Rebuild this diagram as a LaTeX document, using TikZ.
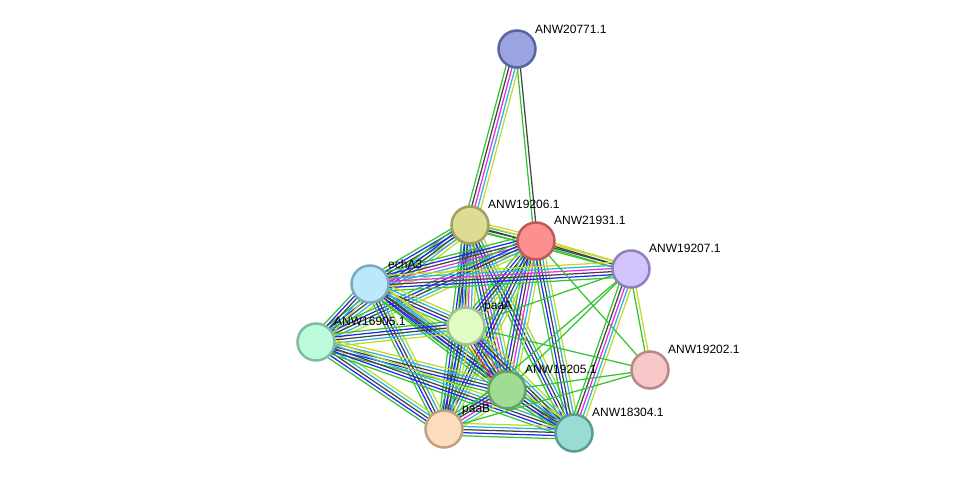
\documentclass[tikz,border=0pt]{standalone}
\usepackage{fontspec}
\setmainfont{Liberation Sans}
\usetikzlibrary{calc,backgrounds}
\definecolor{grn}{HTML}{33C433}
\definecolor{blk}{HTML}{444444}
\definecolor{mag}{HTML}{E62CE6}
\definecolor{cyn}{HTML}{2CB4DC}
\definecolor{yel}{HTML}{C4D82C}
\definecolor{blu}{HTML}{2424F4}
\definecolor{rd}{HTML}{F42424}
\newcommand\edgeb[4]{%
  \foreach \c [count=\i] in {#4}{%
    \pgfmathsetmacro\off{(\i-(#3+1)/2)*3.1}%
    \draw[wire,\c] ($(#1.center)!\off pt!90:(#2.center)$) -- ($(#2.center)!\off pt!-90:(#1.center)$);}}
\tikzset{
  prot/.style={circle,inner sep=0pt,minimum size=37pt,line width=2.5pt},
  lbl/.style={anchor=base west,inner sep=0pt,font=\fontsize{12}{14}\selectfont,text=black},
  wire/.style={line width=1.25pt},
}
\begin{document}
\begin{tikzpicture}[x=1pt,y=-1pt]
\useasboundingbox (0,0) rectangle (975,479);
\node[prot,fill={rgb,255:red,154;green,164;blue,224},draw={rgb,255:red,90;green,100;blue,160}] (A) at (517,49) {};
\node[prot,fill={rgb,255:red,220;green,220;blue,148},draw={rgb,255:red,160;green,160;blue,96}] (B) at (470,225) {};
\node[prot,fill={rgb,255:red,252;green,144;blue,144},draw={rgb,255:red,192;green,88;blue,88}] (C) at (536,241) {};
\node[prot,fill={rgb,255:red,212;green,196;blue,252},draw={rgb,255:red,144;green,128;blue,192}] (D) at (631,269) {};
\node[prot,fill={rgb,255:red,188;green,232;blue,252},draw={rgb,255:red,128;green,168;blue,192}] (E) at (370,284) {};
\node[prot,fill={rgb,255:red,224;green,252;blue,196},draw={rgb,255:red,160;green,192;blue,144}] (F) at (466,326) {};
\node[prot,fill={rgb,255:red,188;green,252;blue,220},draw={rgb,255:red,128;green,188;blue,160}] (G) at (316,342) {};
\node[prot,fill={rgb,255:red,248;green,200;blue,200},draw={rgb,255:red,184;green,136;blue,136}] (H) at (650,370) {};
\node[prot,fill={rgb,255:red,160;green,220;blue,148},draw={rgb,255:red,104;green,160;blue,96}] (I) at (507,390) {};
\node[prot,fill={rgb,255:red,252;green,220;blue,188},draw={rgb,255:red,192;green,160;blue,128}] (J) at (444,429) {};
\node[prot,fill={rgb,255:red,152;green,220;blue,212},draw={rgb,255:red,90;green,156;blue,148}] (K) at (574,433) {};
\node[lbl] (lA) at (535,33) {ANW20771.1};
\node[lbl] (lB) at (488,208) {ANW19206.1};
\node[lbl] (lC) at (554,224) {ANW21931.1};
\node[lbl] (lD) at (649,252) {ANW19207.1};
\node[lbl] (lE) at (388,268) {echA3};
\node[lbl] (lF) at (484,309) {paaA};
\node[lbl] (lG) at (334,325) {ANW16905.1};
\node[lbl] (lH) at (668,353) {ANW19202.1};
\node[lbl] (lI) at (525,373) {ANW19205.1};
\node[lbl] (lJ) at (462,412) {paaB};
\node[lbl] (lK) at (592,416) {ANW18304.1};
\begin{pgfonlayer}{background}
\edgeb{A}{B}{5}{grn,blk,mag,cyn,yel}
\edgeb{A}{C}{2}{grn,blk}
\edgeb{B}{C}{4}{grn,blk,cyn,yel}
\edgeb{B}{D}{3}{grn,blk,yel}
\edgeb{C}{D}{3}{grn,blk,yel}
\edgeb{B}{E}{5}{grn,blu,blk,cyn,yel}
\edgeb{B}{F}{6}{grn,blu,blk,mag,cyn,yel}
\edgeb{B}{G}{5}{grn,blu,blk,cyn,yel}
\edgeb{B}{I}{6}{grn,blu,blk,mag,cyn,yel}
\edgeb{B}{J}{5}{grn,blu,blk,cyn,yel}
\edgeb{B}{K}{5}{grn,blu,blk,cyn,yel}
\edgeb{C}{E}{6}{grn,blu,blk,mag,cyn,yel}
\edgeb{C}{F}{5}{grn,blu,blk,cyn,yel}
\edgeb{C}{G}{5}{grn,blu,blk,cyn,yel}
\edgeb{C}{I}{6}{grn,blu,blk,mag,cyn,yel}
\edgeb{C}{J}{5}{grn,blu,blk,cyn,yel}
\edgeb{C}{K}{5}{grn,blu,blk,cyn,yel}
\edgeb{E}{D}{6}{grn,blu,blk,mag,cyn,yel}
\edgeb{E}{F}{5}{grn,blu,blk,cyn,yel}
\edgeb{E}{G}{5}{grn,blu,blk,cyn,yel}
\edgeb{E}{I}{5}{grn,blu,blk,cyn,yel}
\edgeb{E}{J}{5}{grn,blu,blk,cyn,yel}
\edgeb{E}{K}{5}{grn,blu,blk,cyn,yel}
\edgeb{F}{G}{5}{grn,blu,blk,cyn,yel}
\edgeb{F}{I}{7}{grn,rd,blu,blk,mag,cyn,yel}
\edgeb{F}{J}{5}{grn,blu,blk,cyn,yel}
\edgeb{F}{K}{5}{grn,blu,blk,cyn,yel}
\edgeb{G}{I}{5}{grn,blu,blk,cyn,yel}
\edgeb{G}{J}{5}{grn,blu,blk,cyn,yel}
\edgeb{G}{K}{5}{grn,blu,blk,cyn,yel}
\edgeb{I}{J}{6}{grn,blu,blk,mag,cyn,yel}
\edgeb{I}{K}{5}{grn,blu,blk,cyn,yel}
\edgeb{J}{K}{5}{grn,blu,blk,cyn,yel}
\edgeb{D}{K}{5}{grn,blk,mag,cyn,yel}
\edgeb{D}{H}{2}{grn,yel}
\edgeb{D}{F}{1}{grn}
\edgeb{D}{I}{1}{grn}
\edgeb{D}{J}{1}{grn}
\edgeb{C}{H}{1}{grn}
\edgeb{F}{H}{1}{grn}
\edgeb{I}{H}{1}{grn}
\edgeb{J}{H}{1}{grn}
\end{pgfonlayer}
\end{tikzpicture}
\end{document}
